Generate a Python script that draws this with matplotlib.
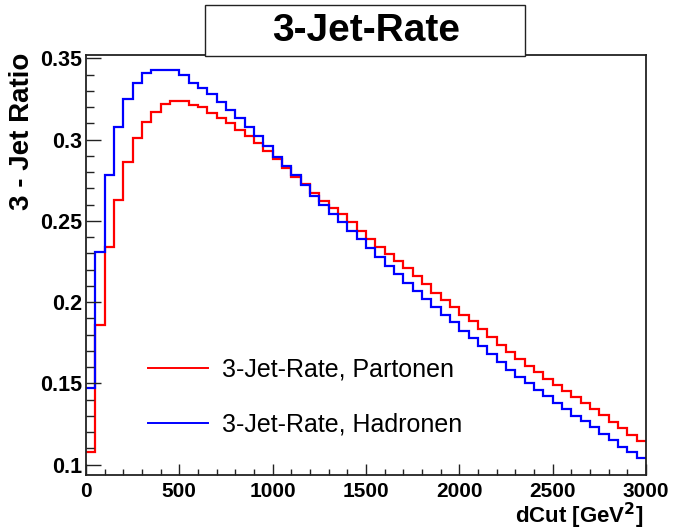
import numpy as np
import matplotlib
matplotlib.use("Agg")
import matplotlib.pyplot as plt
from matplotlib.patches import Rectangle
from matplotlib.ticker import MultipleLocator

plt.rcParams['font.family'] = ['Liberation Sans', 'DejaVu Sans']

# bin edges: 60 bins of 50 GeV^2 from 0 to 3000
edges = np.linspace(0, 3000, 61)

partonen = [0.108, 0.186, 0.234, 0.263, 0.286, 0.301, 0.311, 0.317, 0.322, 0.3235,
            0.324, 0.3215, 0.320, 0.3165, 0.313, 0.310, 0.306, 0.302, 0.298, 0.293,
            0.288, 0.2825, 0.277, 0.2727, 0.267, 0.262, 0.258, 0.254, 0.249, 0.2435,
            0.239, 0.234, 0.2296, 0.2254, 0.2207, 0.2158, 0.211, 0.2058, 0.201, 0.1968,
            0.1922, 0.1882, 0.1832, 0.1783, 0.1738, 0.1693, 0.1648, 0.1607, 0.157, 0.1528,
            0.1491, 0.1451, 0.1414, 0.1377, 0.1344, 0.1303, 0.1262, 0.1225, 0.1184, 0.1147]

hadronen = [0.147, 0.231, 0.278, 0.308, 0.325, 0.335, 0.341, 0.3426, 0.343, 0.3426,
            0.340, 0.335, 0.332, 0.328, 0.323, 0.318, 0.313, 0.308, 0.302, 0.296,
            0.289, 0.284, 0.278, 0.272, 0.265, 0.260, 0.254, 0.249, 0.244, 0.239,
            0.233, 0.228, 0.222, 0.217, 0.212, 0.207, 0.202, 0.197, 0.192, 0.188,
            0.182, 0.178, 0.173, 0.168, 0.163, 0.158, 0.154, 0.150, 0.146, 0.142,
            0.138, 0.134, 0.130, 0.127, 0.123, 0.119, 0.115, 0.111, 0.108, 0.104]

fig = plt.figure(figsize=(6.75, 5.31), dpi=100)
ax = fig.add_axes([86/675, 1 - 475/531, 560/675, 420/531])

ax.stairs(partonen, edges, baseline=None, color='#ff0000', lw=1.6,
          label='3-Jet-Rate, Partonen')
ax.stairs(hadronen, edges, baseline=None, color='#0000ff', lw=1.6,
          label='3-Jet-Rate, Hadronen')

ax.set_xlim(0, 3000)
ax.set_ylim(0.0936, 0.352)

ax.xaxis.set_major_locator(MultipleLocator(500))
ax.xaxis.set_minor_locator(MultipleLocator(100))
ax.yaxis.set_major_locator(MultipleLocator(0.05))
ax.yaxis.set_minor_locator(MultipleLocator(0.01))
ax.tick_params(axis='both', which='both', direction='in', top=False, right=False,
               colors='#222222', labelcolor='black')
ax.tick_params(axis='x', which='major', length=8, width=1, pad=5)
ax.tick_params(axis='x', which='minor', length=4.5, width=1)
ax.tick_params(axis='y', which='major', length=10.5, width=1, pad=3)
ax.tick_params(axis='y', which='minor', length=5.5, width=1)
ax.set_yticks([0.1, 0.15, 0.2, 0.25, 0.3, 0.35])
ax.set_yticklabels(['0.1', '0.15', '0.2', '0.25', '0.3', '0.35'])
for lab in ax.get_xticklabels():
    lab.set_fontsize(15)
    lab.set_fontweight('bold')
for lab in ax.get_yticklabels():
    lab.set_fontsize(15.5)
    lab.set_fontweight('bold')

for s in ax.spines.values():
    s.set_linewidth(1.3)
    s.set_color('#222222')

fig.text(22/675, 1 - 53/531, '3 - Jet Ratio', rotation=90, ha='center', va='top',
         fontsize=20, fontweight='bold')
fig.text(644/675, 1 - 523/531, 'dCut [GeV$^\\mathbf{2}$]', ha='right', va='baseline',
         fontsize=16, fontweight='bold')

# title box
fig.patches.append(Rectangle((205/675, 1 - 56/531), 320/675, 51/531,
                             transform=fig.transFigure, fill=True, facecolor='white',
                             edgecolor='#222222', lw=1.0, zorder=5))
fig.text(366/675, 1 - 31/531, '3-Jet-Rate', ha='center', va='center',
         fontsize=28, fontweight='bold', zorder=6)

leg = ax.legend(loc='center left', bbox_to_anchor=(62/560, (475 - 397)/420),
                frameon=False, fontsize=18, borderpad=0, borderaxespad=0,
                handlelength=2.4, handletextpad=0.55, labelspacing=1.25)
for h in leg.get_lines():
    h.set_linewidth(1.4)

fig.savefig('out.png', dpi=100)
